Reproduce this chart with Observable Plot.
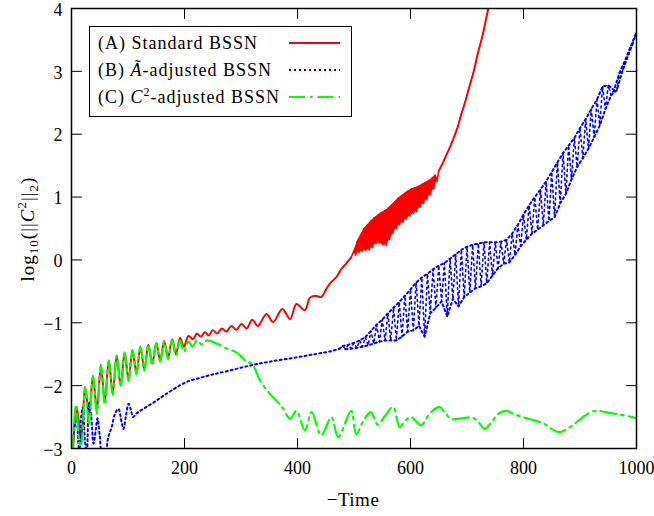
<!DOCTYPE html>
<html><head><meta charset="utf-8">
<script src="https://cdn.jsdelivr.net/npm/d3@7"></script>
<script src="https://cdn.jsdelivr.net/npm/@observablehq/plot@0.6"></script>
<style>
body{margin:0;background:#fff;}
#chart{position:relative;width:654px;height:516px;}
</style></head><body><div id="chart"></div>
<script>
const xTicks = [0, 200, 400, 600, 800, 1000];
const yTicks = [-3, -2, -1, 0, 1, 2, 3, 4];
const colors = ["#ff0000", "#0000ff", "#00ff00"];

// (A) Standard BSSN
const redEarly = [[3,-3.0],[6,-2.55],[9,-2.35],[12,-2.5],[16,-2.85],[19,-2.7],[24,-2.02],[31,-2.45],[38,-1.86],[45,-2.38],[52,-1.68],[59,-2.25],[66,-1.6],[73,-2.12],[80,-1.53],[87,-2.0],[94,-1.48],[101,-1.9],[108,-1.44],[115,-1.8],[122,-1.39],[129,-1.74],[136,-1.35],[143,-1.65],[150,-1.32],[157,-1.6],[164,-1.29],[171,-1.55],[178,-1.26],[185,-1.5],[192,-1.24],[199,-1.38],[207,-1.21],[215,-1.26],[222,-1.17],[229,-1.22],[236,-1.15],[243,-1.20],[250,-1.12],[258,-1.17],[266,-1.09],[274,-1.14],[283,-1.05],[292,-1.11],[301,-1.02],[310,-1.09],[320,-0.95],[330,-1.05],[345,-0.86],[357,-0.99],[373,-0.78],[387,-0.94],[398,-0.70],[413,-0.80],[422,-0.60],[432,-0.57],[442,-0.59],[450,-0.48],[457,-0.38],[469,-0.27],[478,-0.14],[486,-0.06],[495,0.04]];
const redBandUpper = [[500,0.15],[506,0.30],[512,0.40],[518,0.50],[524,0.56],[530,0.62],[536,0.67],[542,0.71],[548,0.75],[554,0.78],[560,0.82],[566,0.87],[572,0.92],[578,0.98],[584,1.02],[590,1.06],[596,1.10],[602,1.13],[608,1.15],[614,1.17],[620,1.20],[626,1.23],[632,1.26],[638,1.30],[644,1.35],[650,1.42]];
const redBandLower = [[503,0.08],[509,0.12],[515,0.14],[521,0.15],[527,0.16],[533,0.20],[539,0.26],[545,0.27],[551,0.24],[557,0.23],[563,0.32],[569,0.42],[575,0.50],[581,0.56],[587,0.60],[593,0.65],[599,0.70],[605,0.74],[611,0.77],[617,0.84],[623,0.90],[629,0.96],[635,1.04],[641,1.13],[647,1.25]];
const redLate = [[650,1.42],[656,1.52],[663,1.66],[670,1.80],[676,1.93],[683,2.10],[690,2.32],[697,2.52],[704,2.75],[712,3.0],[719,3.28],[727,3.55],[734,3.84],[740,4.1]];

// (B) A-tilde-adjusted BSSN
const blueEarly = [[2,-3.05],[6,-2.6],[9,-2.45],[12,-2.9],[14,-3.05],[17,-2.5],[20,-2.35],[24,-2.9],[27,-3.05],[31,-2.26],[35,-2.5],[39,-2.92],[43,-2.7],[46,-2.52],[50,-2.8],[54,-3.05],[60,-3.05],[65,-2.82],[71,-2.66],[77,-2.45],[83,-2.37],[89,-2.6],[92,-2.69],[96,-2.5],[101,-2.29],[105,-2.38],[109,-2.5],[114,-2.45],[120,-2.41],[136,-2.32],[150,-2.24],[163,-2.16],[180,-2.06],[204,-1.94],[230,-1.87],[251,-1.82],[280,-1.76],[316,-1.68],[350,-1.62],[392,-1.56],[430,-1.50],[460,-1.45],[475,-1.41]];
const blueBandUpper = [[480,-1.37],[490,-1.35],[500,-1.32],[510,-1.28],[520,-1.23],[530,-1.13],[540,-1.03],[550,-0.95],[560,-0.85],[570,-0.76],[580,-0.67],[590,-0.57],[600,-0.47],[610,-0.36],[620,-0.28],[630,-0.22],[640,-0.15],[650,-0.09],[660,-0.05],[670,0.02],[680,0.09],[690,0.16],[700,0.21],[710,0.24],[720,0.26],[730,0.28],[740,0.28],[750,0.28],[760,0.29],[770,0.32],[780,0.42],[790,0.56],[800,0.72],[810,0.87],[820,1.00],[830,1.12],[840,1.25],[850,1.40],[860,1.55],[870,1.70],[880,1.82],[890,1.94],[900,2.10],[910,2.24],[920,2.40],[930,2.55],[940,2.76],[950,2.78],[960,2.70],[970,2.98],[980,3.18],[990,3.40],[1000,3.62]];
const blueBandLower = [[485,-1.42],[495,-1.41],[505,-1.40],[515,-1.38],[525,-1.36],[535,-1.33],[545,-1.30],[555,-1.28],[565,-1.28],[575,-1.28],[585,-1.22],[595,-1.14],[605,-1.12],[615,-1.05],[625,-1.22],[635,-0.85],[645,-0.76],[655,-0.66],[665,-0.90],[675,-0.62],[685,-0.74],[695,-0.59],[705,-0.52],[715,-0.45],[725,-0.42],[735,-0.37],[745,-0.25],[755,-0.13],[765,-0.06],[775,-0.04],[785,0.08],[795,0.22],[805,0.32],[815,0.42],[825,0.48],[835,0.55],[845,0.62],[855,0.68],[865,0.90],[875,1.05],[885,1.28],[895,1.48],[905,1.62],[915,1.77],[925,1.95],[935,2.14],[945,2.40],[955,2.62],[965,2.70],[975,3.00],[985,3.25],[995,3.48]];

// (C) C^2-adjusted BSSN
const green = [[2,-3.05],[5,-2.55],[8,-2.3],[11,-2.6],[15,-2.95],[18,-2.9],[24,-2.02],[31,-2.6],[38,-1.84],[45,-2.45],[52,-1.67],[59,-2.3],[66,-1.6],[73,-2.15],[80,-1.52],[87,-2.02],[94,-1.47],[101,-1.93],[108,-1.43],[115,-1.82],[122,-1.38],[129,-1.76],[136,-1.35],[143,-1.67],[150,-1.32],[157,-1.62],[164,-1.30],[171,-1.58],[178,-1.28],[185,-1.52],[192,-1.28],[199,-1.46],[207,-1.30],[214,-1.38],[222,-1.28],[230,-1.34],[240,-1.28],[257,-1.33],[275,-1.41],[292,-1.47],[302,-1.55],[310,-1.62],[318,-1.64],[324,-1.72],[334,-1.92],[351,-2.13],[363,-2.24],[375,-2.37],[387,-2.53],[398,-2.40],[413,-2.71],[425,-2.42],[442,-2.79],[460,-2.50],[472,-2.82],[495,-2.40],[504,-2.77],[517,-2.55],[530,-2.42],[542,-2.62],[555,-2.48],[569,-2.34],[581,-2.66],[590,-2.56],[601,-2.50],[610,-2.57],[619,-2.63],[632,-2.47],[645,-2.36],[652,-2.34],[661,-2.43],[672,-2.53],[690,-2.52],[710,-2.51],[722,-2.60],[731,-2.69],[742,-2.60],[755,-2.45],[769,-2.40],[785,-2.46],[810,-2.53],[835,-2.60],[852,-2.70],[863,-2.74],[875,-2.70],[887,-2.63],[905,-2.50],[920,-2.42],[931,-2.40],[945,-2.42],[970,-2.46],[993,-2.50],[1000,-2.52]];

const byT = (a, b) => a[0] - b[0];
const redMid = [redEarly[redEarly.length - 1], ...[...redBandUpper, ...redBandLower].sort(byT)];
const blueBand = [blueEarly[blueEarly.length - 1], ...[...blueBandUpper, ...blueBandLower].sort(byT)];
const bandIdx = d3.range(redBandLower.length);

const fmt = d => d < 0 ? "\u2212" + Math.abs(d) : String(d);
const tickShape = {draw(ctx, l) { ctx.moveTo(0, 0); ctx.lineTo(0, -l); }};
const tk = {length: 10, anchor: "start", shape: tickShape, stroke: "black", strokeWidth: 1};
const font = "'Liberation Serif', 'DejaVu Serif', serif";
const X = d => d[0], Y = d => d[1];
const dotted = {stroke: colors[1], strokeWidth: 2, strokeDasharray: "2,3", clip: true};
const dashdot = "16,5,2.5,5";

const plot = Plot.plot({
  width: 654, height: 516,
  marginLeft: 71, marginRight: 18, marginTop: 8, marginBottom: 68,
  style: {fontFamily: font, fontSize: "18px", background: "white"},
  x: {domain: [0, 1000]},
  y: {domain: [-3, 4]},
  marks: [
    Plot.line(redEarly, {x: X, y: Y, stroke: colors[0], strokeWidth: 2, curve: "catmull-rom", clip: true}),
    Plot.area(bandIdx, {x1: i => redBandUpper[i][0], y1: i => redBandUpper[i][1], x2: i => redBandLower[i][0], y2: i => redBandLower[i][1], fill: colors[0], clip: true}),
    Plot.line(redMid, {x: X, y: Y, stroke: colors[0], strokeWidth: 1.6, clip: true}),
    Plot.line(redLate, {x: X, y: Y, stroke: colors[0], strokeWidth: 2, curve: "catmull-rom", clip: true}),
    Plot.line(blueEarly, {x: X, y: Y, curve: "catmull-rom", ...dotted}),
    Plot.line(blueBand, {x: X, y: Y, ...dotted, strokeWidth: 1.6, strokeDasharray: "2,3.5"}),
    Plot.line(blueBandUpper, {x: X, y: Y, ...dotted}),
    Plot.line(blueBandLower, {x: X, y: Y, ...dotted}),
    Plot.line(green, {x: X, y: Y, stroke: colors[2], strokeWidth: 2.2, strokeDasharray: dashdot, curve: "catmull-rom", clip: true}),
    Plot.vector(xTicks, {x: d => d, y: -3, rotate: 0, ...tk}),
    Plot.vector(xTicks, {x: d => d, y: 4, rotate: 180, ...tk}),
    Plot.vector(yTicks, {x: 0, y: d => d, rotate: 90, ...tk}),
    Plot.vector(yTicks, {x: 1000, y: d => d, rotate: -90, ...tk}),
    Plot.frame({stroke: "black", strokeWidth: 1.5}),
    Plot.axisX(xTicks, {tickSize: 0, tickPadding: 13, tickFormat: fmt, label: null}),
    Plot.axisY(yTicks, {tickSize: 0, tickPadding: 9, tickFormat: fmt, label: null, dy: 1.5})
  ]
});
document.getElementById("chart").appendChild(plot);

const svg = d3.select(plot);
// legend
const lg = svg.append("g").attr("font-family", font).attr("font-size", 18)
  .attr("text-anchor", "start").attr("letter-spacing", "1px");
lg.append("rect").attr("x", 89.5).attr("y", 26.5).attr("width", 262).attr("height", 90)
  .attr("fill", "white").attr("stroke", "black").attr("stroke-width", 1);
const rows = [43, 70, 97];
const t0 = lg.append("text").attr("x", 98).attr("y", rows[0] + 6);
t0.append("tspan").text("(A) Standard BSSN");
const t1 = lg.append("text").attr("x", 98).attr("y", rows[1] + 6);
t1.append("tspan").text("(B) ");
t1.append("tspan").attr("font-style", "italic").text("\u00C3");
t1.append("tspan").text("-adjusted BSSN");
const t2 = lg.append("text").attr("x", 98).attr("y", rows[2] + 6);
t2.append("tspan").text("(C) ");
t2.append("tspan").attr("font-style", "italic").text("C");
t2.append("tspan").attr("font-size", 12).attr("dy", -7).text("2");
t2.append("tspan").attr("dy", 7).text("-adjusted BSSN");
const dashes = [null, "2,3", dashdot];
rows.forEach((ry, i) => {
  lg.append("line").attr("x1", 289).attr("x2", 340).attr("y1", ry).attr("y2", ry)
    .attr("stroke", colors[i]).attr("stroke-width", 2.2)
    .attr("stroke-dasharray", dashes[i]);
});
// axis titles
svg.append("text").attr("x", 353).attr("y", 506).attr("text-anchor", "middle")
  .attr("font-family", font).attr("font-size", 19).attr("letter-spacing", "0.5px").text("\u2212Time");
const yl = svg.append("text").attr("transform", "translate(34,229) rotate(-90)")
  .attr("text-anchor", "middle").attr("font-family", font).attr("font-size", 19)
  .attr("letter-spacing", "1px");
yl.append("tspan").text("log");
yl.append("tspan").attr("font-size", 13).attr("dy", 4).text("10");
yl.append("tspan").attr("dy", -4).text("(||");
yl.append("tspan").attr("font-style", "italic").text("C");
yl.append("tspan").attr("font-size", 13).attr("dy", -8).text("2");
yl.append("tspan").attr("dy", 8).text("||");
yl.append("tspan").attr("font-size", 13).attr("dy", 4).text("2");
yl.append("tspan").attr("dy", -4).text(")");
</script></body></html>
